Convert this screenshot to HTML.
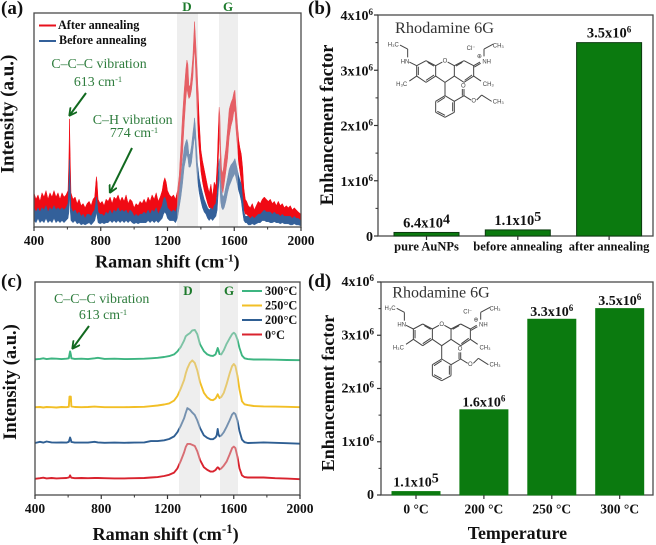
<!DOCTYPE html>
<html>
<head>
<meta charset="utf-8">
<title>Raman spectra and enhancement factor</title>
<style>
html,body{margin:0;padding:0;background:#fff;width:656px;height:545px;overflow:hidden}
svg{display:block;font-family:"Liberation Serif",serif}
text{fill:#111}
.b{font-weight:bold}
.g{fill:#2f7d3e}
</style>
</head>
<body>
<svg id="fig" width="656" height="545" viewBox="0 0 656 545" xmlns="http://www.w3.org/2000/svg">
  <defs>
    <marker id="ah" viewBox="0 0 10 10" refX="9" refY="5" markerWidth="4.5" markerHeight="4.5" orient="auto">
      <path d="M1 0.5 L9.5 5 L1 9.5" fill="none" stroke="#11691f" stroke-width="2"/>
    </marker>
  </defs>

  <text class="b" x="1" y="14" font-size="19">(a)</text>
  <text class="b" x="308" y="14" font-size="19">(b)</text>
  <text class="b" x="1" y="287" font-size="19">(c)</text>
  <text class="b" x="308" y="287" font-size="19">(d)</text>

  <g id="pa"></g>
  <g id="pb"></g>
  <g id="pc"></g>
  <g id="pd"></g>

  <!-- panel a static text -->
  <text class="b" x="187" y="11" font-size="13" text-anchor="middle" style="fill:#1d7a2c">D</text>
  <text class="b" x="228" y="11" font-size="13" text-anchor="middle" style="fill:#1d7a2c">G</text>
  <line x1="39" y1="25.5" x2="56" y2="25.5" stroke="#e8101c" stroke-width="2"/>
  <text class="b" x="58" y="29" font-size="12.2">After annealing</text>
  <line x1="39" y1="41" x2="56" y2="41" stroke="#33609a" stroke-width="2"/>
  <text class="b" x="59" y="44" font-size="12.1">Before annealing</text>
  <text class="g" x="99" y="68" font-size="13.9" text-anchor="middle">C–C–C vibration</text>
  <text class="g" x="98" y="86" font-size="13.9" text-anchor="middle">613 cm<tspan dy="-4" font-size="8.5">-1</tspan></text>
  <text class="g" x="132.7" y="124" font-size="13.9" text-anchor="middle">C–H vibration</text>
  <text class="g" x="134" y="137" font-size="13.9" text-anchor="middle">774 cm<tspan dy="-4" font-size="8.5">-1</tspan></text>
  <line x1="86" y1="93" x2="69.5" y2="115.5" stroke="#11691f" stroke-width="2" marker-end="url(#ah)"/>
  <line x1="132" y1="148" x2="110" y2="192.5" stroke="#11691f" stroke-width="2" marker-end="url(#ah)"/>
  <text class="b" x="95" y="267.5" font-size="18.2">Raman shift (cm<tspan dy="-6" font-size="11">-1</tspan><tspan dy="6">)</tspan></text>
  <text class="b" transform="translate(13.5,114) rotate(-90)" font-size="19" text-anchor="middle">Intensity (a.u.)</text>

  <!-- panel b static text -->
  <text x="395" y="33" font-size="16.3" fill="#333" style="fill:#333">Rhodamine 6G</text>
  <text class="b" transform="translate(333,125) rotate(-90)" font-size="18.5" text-anchor="middle">Enhancement factor</text>

  <!-- panel c static text -->
  <text class="b" x="188" y="295" font-size="13" text-anchor="middle" style="fill:#1d7a2c">D</text>
  <text class="b" x="229" y="295" font-size="13" text-anchor="middle" style="fill:#1d7a2c">G</text>
  <text class="g" x="101.7" y="303" font-size="13.9" text-anchor="middle">C–C–C vibration</text>
  <text class="g" x="103" y="319" font-size="13.9" text-anchor="middle">613 cm<tspan dy="-4" font-size="8.5">-1</tspan></text>
  <line x1="89" y1="326" x2="72.5" y2="348.5" stroke="#11691f" stroke-width="2" marker-end="url(#ah)"/>
  <line x1="242" y1="291" x2="262" y2="291" stroke="#3db581" stroke-width="2"/>
  <text class="b" x="265" y="295" font-size="12.3">300°C</text>
  <line x1="242" y1="305.5" x2="262" y2="305.5" stroke="#f2bf26" stroke-width="2"/>
  <text class="b" x="265" y="309.5" font-size="12.3">250°C</text>
  <line x1="242" y1="320" x2="262" y2="320" stroke="#2f5f93" stroke-width="2"/>
  <text class="b" x="265" y="324" font-size="12.3">200°C</text>
  <line x1="242" y1="334.5" x2="262" y2="334.5" stroke="#d9232e" stroke-width="2"/>
  <text class="b" x="265" y="339" font-size="12.3">0°C</text>
  <text class="b" x="92.5" y="540" font-size="18.2">Raman shift (cm<tspan dy="-7" font-size="13">-1</tspan><tspan dy="7">)</tspan></text>
  <text class="b" transform="translate(16,382) rotate(-90)" font-size="18.5" text-anchor="middle">Intensity (a.u.)</text>

  <!-- panel d static text -->
  <text x="392.3" y="297.5" font-size="16" style="fill:#333">Rhodamine 6G</text>
  <text class="b" transform="translate(334,393) rotate(-90)" font-size="18" text-anchor="middle">Enhancement factor</text>
  <text class="b" x="467.7" y="539" font-size="17.9">Temperature</text>
</svg>

<script>
/* ---------- panel (a) data: intensity envelopes, percent of axis height ---------- */
var shiftA = [
400,412,424,436,448,460,472,484,496,508,
520,532,544,556,568,580,592,604,609,613,
617,622,634,646,658,670,682,694,706,718,
730,742,754,764,770,774,778,784,796,808,
820,832,844,856,868,880,892,904,916,928,
940,952,964,976,988,1000,1012,1024,1036,1048,
1060,1072,1084,1096,1108,1120,1132,1144,1156,1168,
1176,1184,1192,1200,1212,1224,1236,1248,1260,1270,
1280,1290,1300,1310,1316,1322,1328,1336,1344,1352,
1358,1362,1366,1372,1380,1390,1400,1410,1420,1430,
1440,1450,1460,1470,1480,1490,1498,1504,1510,1514,
1518,1524,1532,1540,1550,1560,1570,1580,1590,1598,
1604,1610,1618,1626,1634,1642,1650,1658,1666,1674,
1684,1696,1708,1720,1732,1744,1756,1768,1780,1792,
1804,1816,1828,1840,1852,1864,1876,1888,1900,1912,
1924,1936,1948,1960,1972,1984,2000];
var afterHigh = [
16,13,15,12,16,14,17,13,16,14,
17,14,16,13,16,14,15,17,32,50.5,
33,16,13,14,11,13,10,11,9,11,
12,10,13,14,20,23.5,21,13,11,12,
10,13,12,14,11,14,13,15,12,14,
12,15,11,13,12,9,11,10,12,11,
13,11,14,12,15,13,16,12,14,17,
21,23,21,17,15,14,15,13,17,24,
38,52,64,74,78,76,66,66,72,80,
90,96,91,82,70,50,36,31,27,23,
19,16,20,14,21,19,30,44,56,52,
38,27,25,31,37,46,55,58,60,63,
64,57,49,41,37,34,28,18,13,12,
10,9,11,8,10,12,11,13,14,13,
12,13,11,12,10,12,10,11,9,10,
9,10,8,9,8,7,6];
var afterLow = [
7,6,8,6,7,6,8,6,7,6,
8,6,7,6,7,6,7,8,10,25,
12,7,6,7,5,6,5,5,4,5,
5,4,6,7,10,13,10,6,5,5,
5,6,5,6,5,6,6,7,5,6,
5,6,5,6,5,4,5,4,5,5,
6,5,6,5,6,6,7,5,6,8,
10,12,10,8,6,6,6,6,7,11,
24,34,48,60,65,62,60,61,64,70,
80,84,78,66,48,36,26,21,17,14,
11,9,9,8,10,11,18,30,42,38,
26,18,16,20,26,32,42,47,50,54,
54,46,38,30,26,21,14,8,6,6,
5,4,5,4,5,6,5,6,6,6,
6,6,5,6,5,5,5,5,4,4,
4,4,3,4,3,3,2];
var beforeHigh = [
9,7,9,7,9,8,10,7,9,8,
10,8,9,8,9,8,9,11,20,31.5,
20,9,7,8,6,7,5,6,4,6,
6,5,7,8,11,14,12,7,6,6,
5,7,6,8,6,8,7,9,7,8,
7,8,6,8,7,5,6,5,6,6,
7,6,8,6,8,7,9,6,8,10,
13,14,12,9,8,7,8,7,10,16,
23,30,37,40,41,39,34,34,38,44,
48,51,48,40,30,23,19,16,13,11,
9,8,9,8,10,11,16,25,32,30,
22,17,14,15,19,23,27,29,30,31,
32,30,27,24,22,20,14,7,5,5,
5,4,5,4,5,6,6,7,8,7,
7,7,6,7,6,6,5,6,5,5,
5,5,4,5,4,4,3];
var beforeLow = [
3,2,4,2,3,2,4,2,3,2,
4,2,3,2,3,2,3,4,7,18,
8,3,2,3,1.5,2,1,1.5,1,1.5,
2,1,2,3,5,7,5,2,1.5,2,
1.5,2,2,3,2,3,2,3,2,3,
2,3,2,3,2,1.5,2,1.5,2,2,
2,2,3,2,3,2,3,2,3,4,
6,7,6,4,3,3,3,2,4,9,
14,20,28,32,34,32,28,28,30,36,
40,43,40,30,22,16,12,9,7,6,
4,3,4,3,4,5,8,16,23,20,
12,9,8,9,12,16,19,21,23,24,
25,23,20,17,15,12,7,3,2,2,
1,1,1.5,1,1.5,2,2,3,3,2.5,
2.5,2,2,2.5,2,2,1.5,2,1.5,1.5,
1.5,1,1,1.5,1,1,0.5];

/* ---------- panel (c) data: offset spectra, percent of axis height ---------- */
var shiftC = [
400,430,450,470,500,530,560,590,604,608,
612,616,620,640,680,720,760,780,820,880,
940,1000,1060,1100,1140,1180,1210,1240,1260,1280,
1300,1310,1320,1335,1350,1365,1380,1396,1420,1440,
1460,1475,1490,1497,1503,1508,1514,1525,1540,1557,
1575,1590,1600,1610,1622,1635,1650,1665,1685,1720,
1780,1850,1920,2000];
var temp300 = [
63.7,63.9,64.2,63.8,64.1,64,63.8,64,64.2,66,
67.4,66,64.2,63.9,64,63.8,64.2,64.4,63.9,64,
63.8,63.9,64,64.2,64.4,64.8,65.2,66,67.4,69.5,
72.5,74.5,75.2,76,77.3,77.5,75.5,70.8,67.5,66,
65.4,65.3,66,67.5,69,68,66.2,66,68,71,
73.5,75.5,76.2,75.5,73,69,65.5,64.2,63.8,63.6,
63.6,63.5,63.4,63.3];
var temp250 = [
41.2,41.3,41.1,41.3,41.2,41.1,41.3,41.2,41.4,46.2,
46.2,46.2,41.6,41.3,41.2,41.3,41.5,41.4,41.2,41.2,
41.2,41.3,41.4,41.7,42,42.5,43,44.3,46.5,50,
54,57,59.5,62,63.2,62,58.5,53,48,45.8,
44.7,44.5,45.3,46.3,47.3,46.5,45.5,46,48,52,
57,60.5,61.5,60.5,56,49.5,44,42.6,42.2,41.8,
41.6,41.5,41.4,41.2];
var temp200 = [
24.4,25,24.6,25.1,24.7,24.6,24.7,24.6,25,26,
27,26,24.9,24.6,24.6,24.6,25,24.7,24.5,24.6,
24.5,24.6,24.7,25.3,25.3,25.7,26.3,27.5,29.5,32.5,
36,38.5,40.8,40,38.7,37.5,35,31.5,28,26.8,
26.2,26.2,27,28,31,28.5,27.5,28,29.5,32,
35,37.8,38.6,38,35,30,26,24.8,24.4,24.5,
24.7,24.5,24.3,24.1];
var temp0 = [
7.6,7.9,8.1,7.8,8,7.8,7.9,8,8.2,8.6,
9.2,8.5,8.1,7.9,8,7.9,8,8,7.9,7.8,
7.8,7.9,8,8.2,8.4,8.9,9.5,10.5,12.5,16,
20,22.5,24,24,23.5,23,20.5,16.5,13,11.8,
11,11,11.7,12.5,13,12.8,12,12.5,13.8,15.7,
19,22,22.7,22,18,12.5,9.2,8.4,8.2,8.2,
8.2,7.9,7.7,7.4];

/* ---------- bar data ---------- */
var categoriesB = ["pure AuNPs","before annealing","after annealing"];
var valuesB = [64000,110000,3500000];
var printedB = [["6.4x10","4"],["1.1x10","5"],["3.5x10","6"]];
var categoriesD = ["0 °C","200 °C","250 °C","300 °C"];
var valuesD = [64000,1600000,3300000,3500000];
var printedD = [["1.1x10","5"],["1.6x10","6"],["3.3x10","6"],["3.5x10","6"]];

/* ---------- tick labels ---------- */
var ramanTicks = [400,800,1200,1600,2000];
var ramanMinorTicks = [600,1000,1400,1800];
var efTicks = [0,1000000,2000000,3000000,4000000];
var efMinorTicks = [500000,1500000,2500000,3500000];
var efTickExponents = ["0","1","2","3","4"];

var NS = "http://www.w3.org/2000/svg";
function make(parent, tag, attrs, txt) {
  var e = document.createElementNS(NS, tag);
  for (var k in attrs) e.setAttribute(k, attrs[k]);
  if (txt !== undefined) e.textContent = txt;
  parent.appendChild(e);
  return e;
}

/* Axis functions */
function scale(d0, d1, r0, r1) { return function (v) { return r0 + (v - d0) / (d1 - d0) * (r1 - r0); }; }
var xA = scale(400, 2000, 34, 301), yA = scale(0, 100, 227, 13);
var xC = scale(400, 2000, 35, 300), yC = scale(0, 100, 495, 282);
var yB = scale(0, 4000000, 236, 15), yD = scale(0, 4000000, 495, 282);

function bandPath(xs, hi, lo, fx, fy) {
  var n = Math.min(xs.length, hi.length, lo.length), d = "", i;
  for (i = 0; i < n; i++) d += (i ? "L" : "M") + fx(xs[i]).toFixed(1) + " " + fy(hi[i]).toFixed(1);
  for (i = n - 1; i >= 0; i--) d += "L" + fx(xs[i]).toFixed(1) + " " + fy(lo[i]).toFixed(1);
  return d + "Z";
}
function linePath(xs, ys, fx, fy) {
  var n = Math.min(xs.length, ys.length), d = "", i;
  for (i = 0; i < n; i++) d += (i ? "L" : "M") + fx(xs[i]).toFixed(1) + " " + fy(ys[i]).toFixed(1);
  return d;
}

function ramanFrame(g, fx, left, right, top, bottom, labelY) {
  var frame = make(g, "rect", {x: left, y: top, width: right - left, height: bottom - top, fill: "none", stroke: "#4a4a4a", "stroke-width": 1.3});
  
  
  ramanTicks.forEach(function (t) {
    var tk = make(g, "line", {x1: fx(t), x2: fx(t), y1: bottom, y2: bottom + 4, stroke: "#333", "stroke-width": 1.2});
    
    
    var lb = make(g, "text", {x: fx(t), y: labelY, "text-anchor": "middle", "font-size": 13.5, "class": "b"}, String(t));
    
    
  });
  ramanMinorTicks.forEach(function (t) {
    var tk = make(g, "line", {x1: fx(t), x2: fx(t), y1: bottom, y2: bottom + 2.5, stroke: "#333", "stroke-width": 1});
    
    
  });
}

function shade(g, x0, x1, top, bottom, name) {
  var r = make(g, "rect", {x: x0, y: top, width: x1 - x0, height: bottom - top, fill: "rgb(214,214,214)", "fill-opacity": 0.42});
  
  
}

/* Panel a */
var pa = document.getElementById("pa");
var redBand = make(pa, "path", {d: bandPath(shiftA, afterHigh, afterLow, xA, yA), fill: "#f00a14", stroke: "#f00a14", "stroke-width": 0.5});


var blueBand = make(pa, "path", {d: bandPath(shiftA, beforeHigh, beforeLow, xA, yA), fill: "#33609a", stroke: "#33609a", "stroke-width": 0.5});


shade(pa, 177, 198, 13, 227, 'd-band-shading-a');
shade(pa, 219, 238, 13, 227, 'g-band-shading-a');
ramanFrame(pa, xA, 34, 301, 13, 227, 245);

/* Panel c */
var pc = document.getElementById("pc");
var lineDefs = [[temp300, "#3db581"], [temp250, "#f2bf26"], [temp200, "#2f5f93"], [temp0, "#d9232e"]];
lineDefs.forEach(function (s) {
  var p = make(pc, "path", {d: linePath(shiftC, s[0], xC, yC), fill: "none", stroke: s[1], "stroke-width": 1.9, "stroke-linejoin": "round"});
  
  
});
shade(pc, 179, 200, 282, 495, 'd-band-shading-c');
shade(pc, 220, 238, 282, 495, 'g-band-shading-c');
ramanFrame(pc, xC, 35, 300, 282, 495, 513);

/* Bar panels */
function barPanel(g, cats, vals, printed, fy, left, right, top, bottom, c0, step, w, barStroke, labelSize, catY, catSize, tickRight, tickDrop, gap, bumpSup) {
  var axis = make(g, "rect", {x: left, y: top, width: right - left, height: bottom - top, fill: "none", stroke: "#4a4a4a", "stroke-width": 1.3});
  
  
  efTicks.forEach(function (t, i) {
    var y = fy(t);
    var tk = make(g, "line", {x1: left - 4, x2: left, y1: y, y2: y, stroke: "#333", "stroke-width": 1.2});
    
    
    var lb = make(g, "text", {x: tickRight, y: y + tickDrop, "text-anchor": "end", "font-size": 14, "class": "b"});
    
    
    if (t === 0) {
      lb.textContent = "0";
    } else {
      lb.textContent = efTickExponents[i] + "x10";
      make(lb, "tspan", {dy: -5, "font-size": 9}, "6");
    }
  });
  efMinorTicks.forEach(function (t) {
    var tk = make(g, "line", {x1: left - 2.5, x2: left, y1: fy(t), y2: fy(t), stroke: "#333", "stroke-width": 1});
    
    
  });
  vals.forEach(function (v, i) {
    var cx = c0 + i * step;
    var bar = make(g, "rect", {x: cx - w / 2, y: fy(v), width: w, height: bottom - fy(v), fill: "#0b7a0f", stroke: barStroke, "stroke-width": 1});
    
    
    var tk = make(g, "line", {x1: cx, x2: cx, y1: bottom, y2: bottom + 4, stroke: "#333", "stroke-width": 1.2});
    
    
    var cat = make(g, "text", {x: cx, y: catY, "text-anchor": "middle", "font-size": catSize, "class": "b"}, cats[i]);
    
    
    var small = v < 200000;
    var val = make(g, "text", {x: cx, y: fy(v) - (small ? 5 : gap), "text-anchor": "middle", "font-size": labelSize, "class": "b"}, printed[i][0]);
    
    
    make(val, "tspan", {dy: small ? -4 : -5, "font-size": small ? bumpSup : 9}, printed[i][1]);
  });
}
var pb = document.getElementById("pb");
var pd = document.getElementById("pd");
barPanel(pb, categoriesB, valuesB, printedB, yB, 378, 653, 15, 236, 426.5, 91.3, 65, "#0c3a10", 14.5, 250.5, 12.5, 373, 5, 5, 14);
barPanel(pd, categoriesD, valuesD, printedD, yD, 381, 653, 282, 495, 416, 67.9, 48, "#0b7a0f", 14, 513.5, 13.5, 374, 4, 3.5, 14);

/* Rhodamine 6G structure (decorative line art, coordinates relative to ring oxygen) */
var bonds = [
[-28,15,-8,4],[8,4,28,15],[-28,15,-28,46],[-28,46,0,65],[0,65,28,46],[28,46,28,15],
[-28,15,-57,0],[-57,0,-85,15],[-85,15,-85,46],[-85,46,-57,65],[-57,65,-28,46],
[-80,18,-80,43],[-57,59,-33,43],[-52,5,-33,16],
[28,15,57,0],[57,0,86,15],[86,15,86,46],[86,46,57,65],[57,65,28,46],
[33,16,52,5],[81,43,59,59],
[-85,15,-107,4],[-112,-10,-112,-35],[-112,-35,-135,-47],
[-85,46,-107,61],[86,15,105,4],[88,19,107,8],
[117,-13,117,-35],[117,-35,145,-50],[86,46,108,61],
[0,65,0,105],[0,105,28,122],[28,122,28,155],[28,155,0,170],[0,170,-28,155],[-28,155,-28,122],[-28,122,0,105],
[23,125,23,152],[0,164,-23,152],[-23,125,0,110],
[28,122,57,105],[57,105,57,85],[52,105,52,85],[57,105,78,118],[95,118,110,103],[110,103,140,122]];
function molecule(g, ox, oy) {
  var m = make(g, "g", {transform: "translate(" + ox + "," + oy + ") scale(.3333)", stroke: "#444", "stroke-width": 3, fill: "none"});
  
  
  bonds.forEach(function (b) {
    make(m, "line", {x1: b[0], y1: b[1], x2: b[2], y2: b[3]});
  });
  var labels = [["O",0,6],["HN",-120,8],["H₃C",-155,-42],["H₃C",-130,76],["Cl⁻",78,-32],["⊕",103,-8],["NH",125,8],["CH₃",160,-40],["CH₃",130,76],["O",55,80],["O",86,126],["CH₃",160,128]];
  labels.forEach(function (l) {
    var t = make(m, "text", {x: l[1], y: l[2], "text-anchor": "middle", "font-size": 18, stroke: "none"}, l[0]);
    t.setAttribute('style', 'fill:#444;font-family:"Liberation Sans",sans-serif');
  });
}
molecule(pb, 445, 60.7);
molecule(pd, 441.7, 324);
</script>
</body>
</html>
